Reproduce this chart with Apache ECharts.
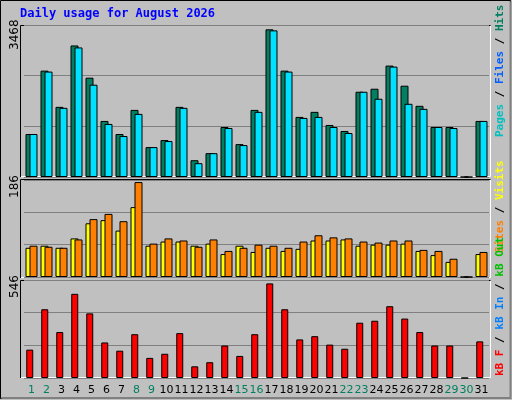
<!DOCTYPE html>
<html><head><meta charset="utf-8">
<script src="https://cdn.jsdelivr.net/npm/echarts@6/dist/echarts.min.js"></script>
<style>html,body{margin:0;padding:0;background:#c0c0c0}#c{width:512px;height:400px}</style>
</head><body><div id="c"></div>
<script>
const days = ['1','2','3','4','5','6','7','8','9','10','11','12','13','14','15','16','17','18','19','20','21','22','23','24','25','26','27','28','29','30','31'];
const weekend = ['1','2','8','9','15','16','22','23','29','30'];
const hits = [981,2427,1600,3001,2266,1279,981,1531,682,843,1600,383,544,1141,751,1531,3369,2427,1371,1486,1187,1050,1945,2014,2542,2083,1624,1141,1141,0,1279];
const files = [981,2405,1578,2956,2106,1210,935,1440,682,820,1578,315,544,1118,728,1486,3346,2405,1348,1371,1141,1004,1945,1785,2519,1670,1555,1141,1118,0,1279];
const visits = [56,60,56,74,103,109,89,134,60,68,68,60,64,44,60,48,56,50,54,70,70,72,60,62,62,64,50,42,29,0,44];
const sites = [60,58,56,72,111,121,107,182,64,74,70,58,72,50,56,62,60,56,68,80,76,74,68,66,70,70,52,50,35,0,48];
const kbF = [158,383,256,469,360,198,152,244,112,135,250,65,88,181,123,244,527,383,215,233,186,163,308,319,400,331,256,181,181,0,204];
const maxes = [3468,186,546];

const chart = echarts.init(document.getElementById('c'), null, {renderer:'canvas'});
const panels = [{top:25,height:152},{top:180,height:97},{top:280,height:98}];
const grids = panels.map(p=>({left:24,width:465,top:p.top,height:p.height}));
const mono = '"DejaVu Sans Mono", monospace';
const xAxes = panels.map((p,i)=>({type:'category',gridIndex:i,data:days,
  axisLine:{show:false},axisTick:{show:false},
  axisLabel:{show:i===2,margin:7,fontSize:11,fontFamily:'"DejaVu Sans", sans-serif',
    color:(v)=>weekend.includes(v)?'#008060':'#000',interval:0}}));
const yAxes = maxes.map((m,i)=>({type:'value',gridIndex:i,min:0,max:m,interval:m/3,
  axisLabel:{show:false},axisLine:{show:false},axisTick:{show:false},
  splitLine:{show:true,lineStyle:{color:'#808080',width:1}}}));
const bs = (name,data,color,i,extra)=>Object.assign({type:'bar',name,data,xAxisIndex:i,yAxisIndex:i,
  barWidth:8,barGap:'-50%',itemStyle:{color,borderColor:'#000',borderWidth:1},silent:true,animation:false},extra||{});
const series = [
  bs('Hits',hits,'#008060',0),
  bs('Files',files,'#00e0ff',0),
  bs('Visits',visits,'#ffff00',1),
  bs('Sites',sites,'#ff8000',1),
  bs('kB F',kbF,'#ff0000',2,{barWidth:7}),
  bs('pad',kbF.map(()=>0),'transparent',2,{barWidth:7,itemStyle:{color:'transparent',borderWidth:0}})
];
const graphics = [
  {type:'rect',shape:{x:0.5,y:0.5,width:510,height:398},style:{fill:'none',stroke:'#000',lineWidth:1},z:-1},
  {type:'polyline',shape:{points:[[1.5,398],[510.5,398],[510.5,1.5]]},style:{fill:'none',stroke:'#808080',lineWidth:2}},
  {type:'text',x:20,y:8,style:{text:'Daily usage for August 2026',fill:'#0000ff',font:'bold 12px '+mono}}
];
const frames=[[25,177],[179,278],[280,378]];
frames.forEach(([t,b])=>{
  graphics.push({type:'polyline',shape:{points:[[20.5,b],[20.5,t+0.5],[490.5,t+0.5]]},style:{fill:'none',stroke:'#000',lineWidth:1}});
  graphics.push({type:'polyline',shape:{points:[[21,b-0.5],[490.5,b-0.5],[490.5,t+1]]},style:{fill:'none',stroke:'#fff',lineWidth:1}});
});
const yl=[[3468,50],[186,198],[546,298]];
yl.forEach(([v,y])=>graphics.push({type:'text',x:9,y:y,rotation:Math.PI/2,
  style:{text:String(v),fill:'#000',font:'12px "DejaVu Sans", sans-serif',align:'left',verticalAlign:'top'}}));
const legend=(y,parts)=>graphics.push({type:'text',x:495,y:y,rotation:Math.PI/2,
  style:{text:parts.map(p=>'{'+p[0]+'|'+p[1]+'}').join(''),rich:Object.fromEntries(parts.map(p=>[p[0],{fill:p[2],font:'bold 11px '+mono}])),
    align:'left',verticalAlign:'top'}});
legend(137,[['a','Pages','#00c0c0'],['s1',' / ','#000'],['b','Files','#0060ff'],['s2',' / ','#000'],['c','Hits','#008060']]);
legend(253,[['a','Sites','#ff8000'],['s1',' / ','#000'],['b','Visits','#ffff00']]);
legend(376,[['a','kB F','#ff0000'],['s1',' / ','#000'],['b','kB In','#0080ff'],['s2',' / ','#000'],['c','kB Out','#00c000']]);
chart.setOption({backgroundColor:'#c0c0c0',animation:false,grid:grids,xAxis:xAxes,yAxis:yAxes,series,graphic:graphics});
</script></body></html>
